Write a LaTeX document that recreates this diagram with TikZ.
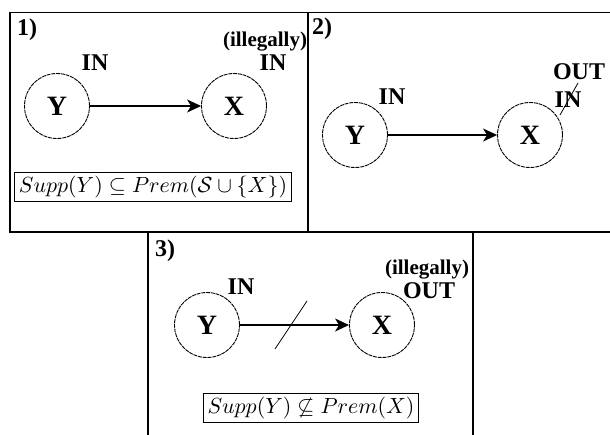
\documentclass[tikz,border=0pt]{standalone}
\usepackage{amsmath,amssymb}
\usepackage[no-math]{fontspec}
\setmainfont{Liberation Serif}
\usetikzlibrary{arrows.meta,positioning,calc}

\begin{document}
\begin{tikzpicture}[x=0.5pt, y=-0.5pt,
    frame/.style={draw, line width=0.8pt},
    state/.style={draw, circle, dash pattern=on 2pt off 0.4pt, line width=0.45pt, minimum size=32.5pt, inner sep=0pt, font=\fontsize{14}{16}\selectfont\bfseries},
    lbl/.style={inner sep=0pt, font=\fontsize{12}{14}\selectfont\bfseries},
    note/.style={inner sep=0pt, font=\fontsize{10.5}{12}\selectfont\bfseries},
    formula/.style={draw, line width=0.5pt, inner sep=2pt, font=\fontsize{11}{13}\selectfont},
    arrow/.style={-{Stealth[length=7pt, width=6.5pt, inset=2pt]}, line width=0.6pt},
    strike/.style={line width=0.4pt}
]
\useasboundingbox (0,0) rectangle (610,434);

% panel frames
\draw[frame] (10,12.5) rectangle (308,232);
\draw[frame] (308,12.5) -- (612,12.5) (308,232) -- (612,232);
\draw[frame] (148,436) |- (473,232) -- (473,436);

% 1)
\node[lbl] (n1) at (27,30) {1)};
\node[state] (y1) at (57,106) {Y};
\node[state] (x1) at (234,106) {X};
\draw[arrow] (y1) -- (x1);
\node[lbl] (iny1) at (95,63) {IN};
\node[note] (il1) at (265,42) {(illegally)};
\node[lbl] (inx1) at (273,63) {IN};
\node[formula] (f1) at (153,187) {$Supp(Y) \subseteq Prem(\mathcal{S}\cup\{X\})$};

% 2)
\node[lbl] (n2) at (322,29) {2)};
\node[state] (y2) at (355,135) {Y};
\node[state] (x2) at (530,135) {X};
\draw[arrow] (y2) -- (x2);
\node[lbl] (iny2) at (392,97) {IN};
\node[lbl] (out2) at (579,72) {OUT};
\node[lbl] (inx2) at (568,100) {IN};
\draw[strike] ([xshift=-4pt,yshift=-7.5pt]inx2.center) -- ([xshift=5pt,yshift=8.5pt]inx2.center);

% 3)
\node[lbl] (n3) at (165,251) {3)};
\node[state] (y3) at (207,325) {Y};
\node[state] (x3) at (382,325) {X};
\draw[arrow] (y3) -- (x3);
\coordinate (c3) at ($(y3)!0.48!(x3)$);
\draw[strike] ([xshift=-8pt,yshift=-12pt]c3) -- ([xshift=8pt,yshift=12pt]c3);
\node[lbl] (iny3) at (241,287) {IN};
\node[note] (il3) at (427,270) {(illegally)};
\node[lbl] (out3) at (429,291) {OUT};
\node[formula] (f3) at (311,408) {$Supp(Y) \not\subseteq Prem(X)$};
\end{tikzpicture}
\end{document}
